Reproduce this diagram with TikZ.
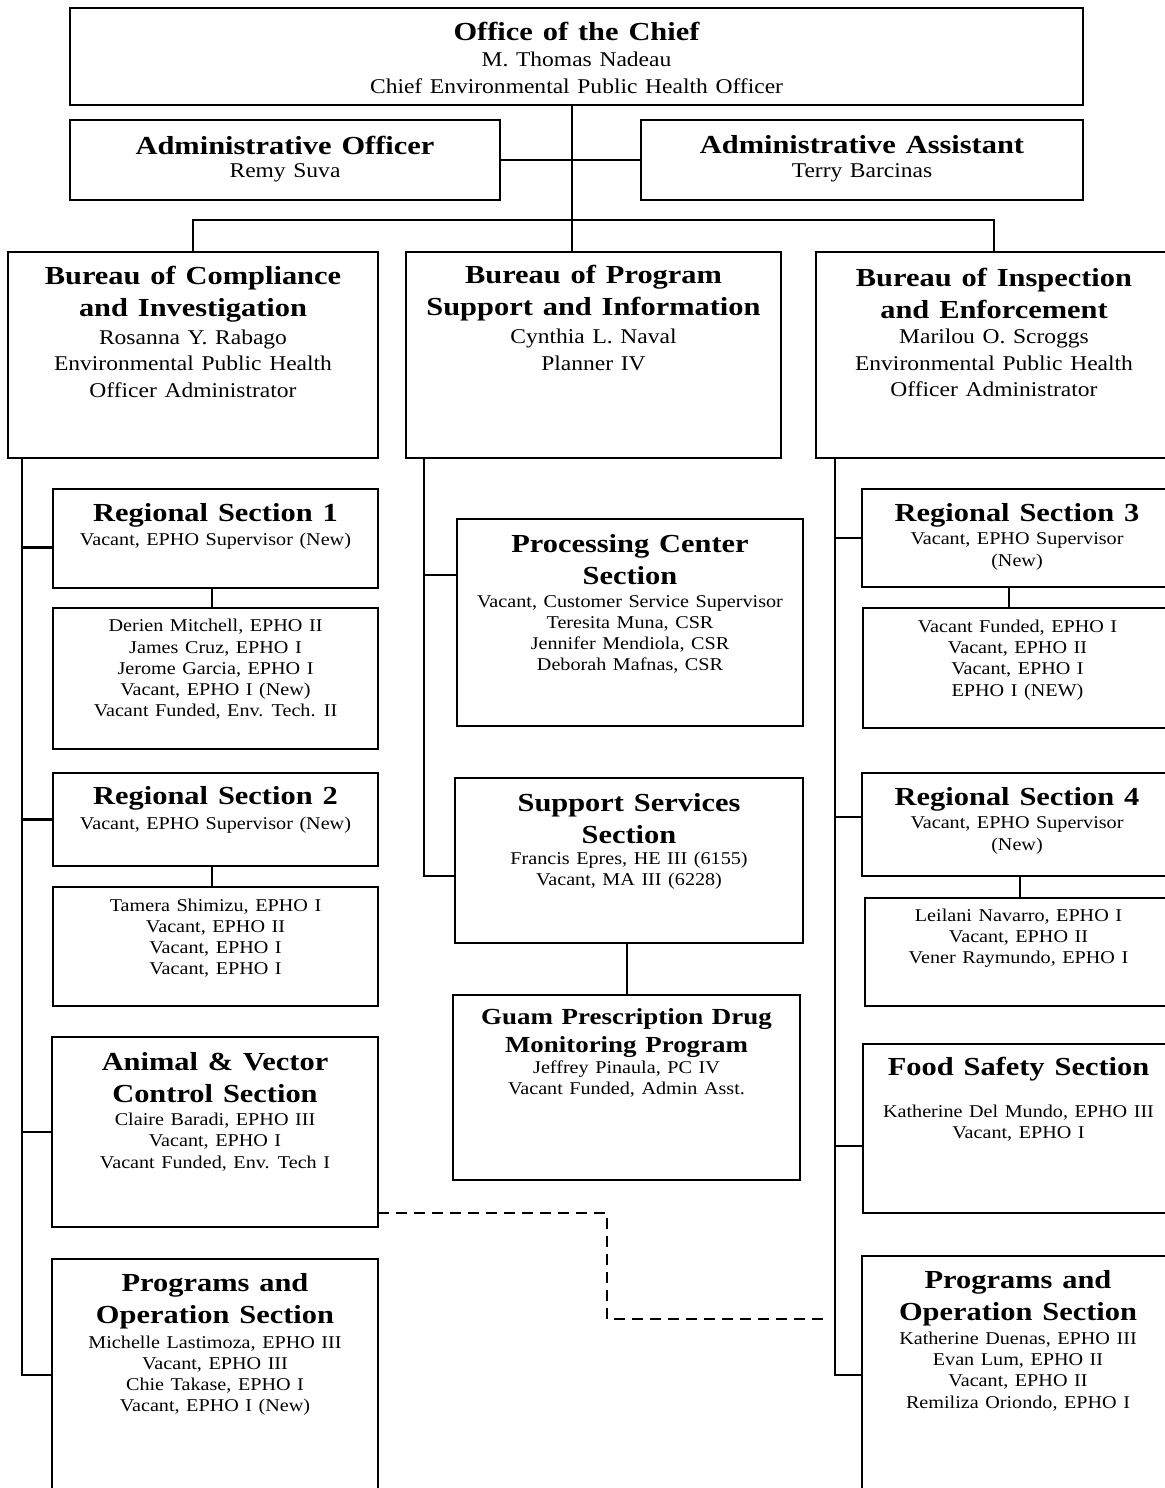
\documentclass[tikz,border=0pt]{standalone}
\usepackage{fontspec}
\setmainfont{Liberation Serif}[FakeStretch=1.12, WordSpace=1.3]
\newfontfamily\ttlfam{Liberation Serif}[FakeStretch=1.17, WordSpace=1.3]
\usetikzlibrary{calc}
\newcommand\obox[5]{\node[box, minimum width={(#4-#2)*0.5pt}, minimum height={(#5-#3)*0.5pt}] (#1) at ({(#2+#4)/2},{(#3+#5)/2}) {};}
\tikzset{
  box/.style={draw, line width=1.2pt, rectangle, inner sep=0pt, outer sep=0pt},
  conn/.style={line width=1.2pt},
  dconn/.style={line width=1.2pt, dash pattern=on 5.5pt off 3.5pt},
  ttl/.style={font={\ttlfam\bfseries\fontsize{13}{16}\selectfont}, align=center, inner sep=0pt},
  gtl/.style={font={\ttlfam\bfseries\fontsize{11.5}{14}\selectfont}, align=center, inner sep=0pt},
  reg/.style={font={\fontsize{10.5}{13.2}\selectfont}, align=center, inner sep=0pt},
  sml/.style={font={\fontsize{9}{10.6}\selectfont}, align=center, inner sep=0pt}
}
\begin{document}
\begin{tikzpicture}[x=0.5pt, y=-0.5pt]
\useasboundingbox (0,0) rectangle (1165,1488);
\clip (0,0) rectangle (1165,1488);
\fill[white] (0,0) rectangle (1165,1488);

% boxes
\obox{office}{70}{8}{1083}{105}
\obox{ao}{70}{120}{500}{200}
\obox{aa}{641}{120}{1083}{200}
\obox{bci}{8}{252}{378}{458}
\obox{bpsi}{406}{252}{781}{458}
\obox{bie}{816}{252}{1172}{458}
\obox{rs1}{53}{489}{378}{588}
\obox{rs1s}{53}{608}{378}{749}
\obox{rs2}{53}{773}{378}{866}
\obox{rs2s}{53}{887}{378}{1006}
\obox{av}{52}{1037}{378}{1227}
\obox{pol}{52}{1259}{378}{1491}
\obox{pc}{457}{519}{803}{726}
\obox{ss}{455}{778}{803}{943}
\obox{gp}{453}{995}{800}{1180}
\obox{rs3}{862}{489}{1172}{587}
\obox{rs3s}{863}{608}{1172}{728}
\obox{rs4}{862}{773}{1172}{876}
\obox{rs4s}{865}{898}{1172}{1006}
\obox{fs}{863}{1044}{1174}{1213}
\obox{por}{862}{1256}{1174}{1494}

% texts
\node[ttl] (officet) at (576.5,31) {Office of the Chief};
\node[reg] (officeb) at (576.5,73) {M. Thomas Nadeau\\Chief Environmental Public Health Officer};
\node[ttl] (aot) at (285,145) {Administrative Officer};
\node[reg] (aob) at (285,173) {Remy Suva};
\node[ttl] (aat) at (862,145) {Administrative Assistant};
\node[reg] (aab) at (862,173) {Terry Barcinas};
\node[ttl] (bcit) at (193,294) {Bureau of Compliance\\and Investigation};
\node[reg] (bcib) at (193,363.5) {Rosanna Y. Rabago\\Environmental Public Health\\Officer Administrator};
\node[ttl] (bpsit) at (593.5,293.5) {Bureau of Program\\Support and Information};
\node[reg] (bpsib) at (593.5,350) {Cynthia L. Naval\\Planner IV};
\node[ttl] (biet) at (994,293.5) {Bureau of Inspection\\and Enforcement};
\node[reg] (bieb) at (994,363) {Marilou O. Scroggs\\Environmental Public Health\\Officer Administrator};
\node[ttl] (rs1t) at (215.5,515) {Regional Section 1};
\node[sml] (rs1b) at (215.5,541) {Vacant, EPHO Supervisor (New)};
\node[sml] (rs1sb) at (215.5,669.5) {Derien Mitchell, EPHO II\\James Cruz, EPHO I\\Jerome Garcia, EPHO I\\Vacant, EPHO I (New)\\Vacant Funded, Env. Tech. II};
\node[ttl] (rs2t) at (215.5,798) {Regional Section 2};
\node[sml] (rs2b) at (215.5,825) {Vacant, EPHO Supervisor (New)};
\node[sml] (rs2sb) at (215.5,938) {Tamera Shimizu, EPHO I\\Vacant, EPHO II\\Vacant, EPHO I\\Vacant, EPHO I};
\node[ttl] (avt) at (215,1078) {Animal \& Vector\\Control Section};
\node[sml] (avb) at (215,1142) {Claire Baradi, EPHO III\\Vacant, EPHO I\\Vacant Funded, Env. Tech I};
\node[ttl] (polt) at (215,1301) {Programs and\\Operation Section};
\node[sml] (polb) at (215,1375.5) {Michelle Lastimoza, EPHO III\\Vacant, EPHO III\\Chie Takase, EPHO I\\Vacant, EPHO I (New)};
\node[ttl] (pct) at (630,560) {Processing Center\\Section};
\node[sml] (pcb) at (630,634.5) {Vacant, Customer Service Supervisor\\Teresita Muna, CSR\\Jennifer Mendiola, CSR\\Deborah Mafnas, CSR};
\node[ttl] (sst) at (629,818.5) {Support Services\\Section};
\node[sml] (ssb) at (629,871) {Francis Epres, HE III (6155)\\Vacant, MA III (6228)};
\node[gtl] (gpt) at (626.5,1033) {Guam Prescription Drug\\Monitoring Program};
\node[sml] (gpb) at (626.5,1079) {Jeffrey Pinaula, PC IV\\Vacant Funded, Admin Asst.};
\node[ttl] (rs3t) at (1017,515) {Regional Section 3};
\node[sml] (rs3b) at (1017,551.5) {Vacant, EPHO Supervisor\\(New)};
\node[sml] (rs3sb) at (1017.5,660) {Vacant Funded, EPHO I\\Vacant, EPHO II\\Vacant, EPHO I\\EPHO I (NEW)};
\node[ttl] (rs4t) at (1017,799) {Regional Section 4};
\node[sml] (rs4b) at (1017,835.5) {Vacant, EPHO Supervisor\\(New)};
\node[sml] (rs4sb) at (1018.5,938) {Leilani Navarro, EPHO I\\Vacant, EPHO II\\Vener Raymundo, EPHO I};
\node[ttl] (fst) at (1018.5,1069) {Food Safety Section};
\node[sml] (fsb) at (1018.5,1123.5) {Katherine Del Mundo, EPHO III\\Vacant, EPHO I};
\node[ttl] (port) at (1018,1298) {Programs and\\Operation Section};
\node[sml] (porb) at (1018,1371.5) {Katherine Duenas, EPHO III\\Evan Lum, EPHO II\\Vacant, EPHO II\\Remiliza Oriondo, EPHO I};

% top connectors
\coordinate (tk) at (572,220);
\draw[conn] (tk |- office.south) -- (tk |- bpsi.north);
\draw[conn] (ao.east) -- (aa.west);
\draw[conn] (bci.north) |- (tk) -| (bie.north);

% left spine
\coordinate (lx) at (22,0);
\coordinate (b1) at ([yshift=-4.5pt]rs1.west);
\draw[conn] (lx |- bci.south) -- (lx |- pol.west) -- (pol.west);
\draw[conn] (b1) -- (lx |- b1);
\draw[conn] (rs2.west) -- (lx |- rs2.west);
\draw[conn] (av.west) -- (lx |- av.west);
\draw[conn] ([xshift=-1.75pt]rs1.south) -- ([xshift=-1.75pt]rs1.south |- rs1s.north);
\draw[conn] ([xshift=-1.75pt]rs2.south) -- ([xshift=-1.75pt]rs2.south |- rs2s.north);

% middle spine
\coordinate (mx) at (424,0);
\coordinate (b5) at ([yshift=23.75pt]pc.west);
\coordinate (b6) at ([yshift=-7.75pt]ss.west);
\draw[conn] (mx |- bpsi.south) -- (mx |- b6) -- (b6);
\draw[conn] (b5) -- (mx |- b5);
\draw[conn] ([xshift=-1pt]ss.south) -- ([xshift=-1pt]ss.south |- gp.north);

% right spine
\coordinate (rx) at (835,0);
\coordinate (b8) at ([yshift=3.75pt]rs4.west);
\coordinate (b9) at ([yshift=-8.75pt]fs.west);
\draw[conn] (rx |- bie.south) -- (rx |- por.west) -- (por.west);
\draw[conn] (rs3.west) -- (rx |- rs3.west);
\draw[conn] (b8) -- (rx |- b8);
\draw[conn] (b9) -- (rx |- b9);
\draw[conn] ([xshift=-4pt]rs3.south) -- ([xshift=-4pt]rs3.south |- rs3s.north);
\draw[conn] ([xshift=1.5pt]rs4.south) -- ([xshift=1.5pt]rs4.south |- rs4s.north);

% dashed link
\coordinate (dm) at (607,1213);
\coordinate (de) at (824,1319);
\draw[dconn] ([yshift=-40.5pt]av.east) -- (dm) |- (de);
\end{tikzpicture}
\end{document}
